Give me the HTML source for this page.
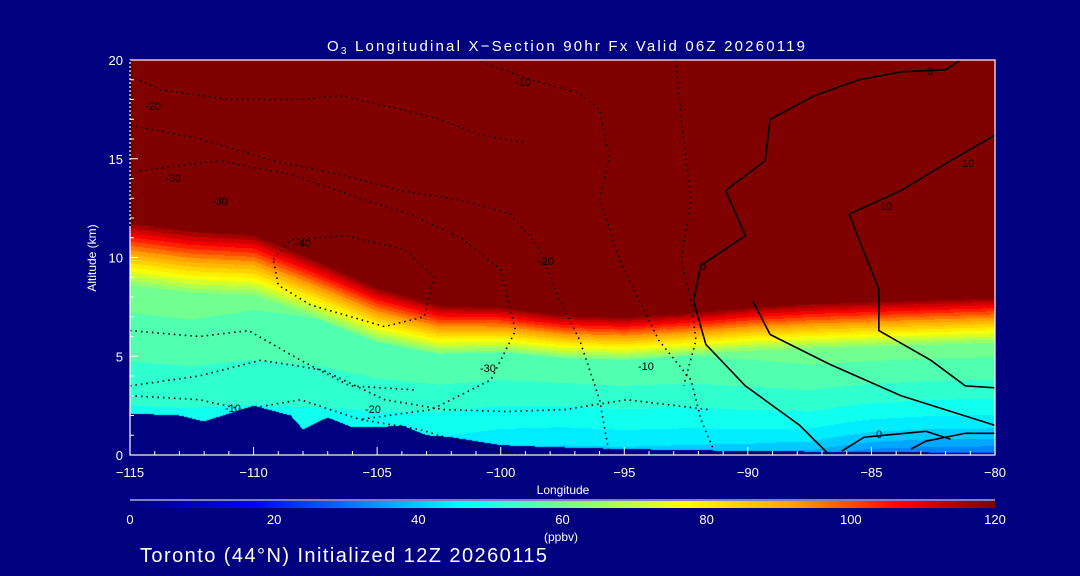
<!DOCTYPE html>
<html><head><meta charset="utf-8">
<style>
html,body{margin:0;padding:0;background:#000080;}
#wrap{position:relative;width:1080px;height:576px;background:#000080;overflow:hidden;font-family:"Liberation Sans",sans-serif;}
canvas{position:absolute;left:130px;top:60px;}
svg{position:absolute;left:0;top:0;}
</style></head>
<body>
<div id="wrap">
<canvas id="field" width="865" height="395"></canvas>
<canvas id="cbar" width="865" height="7" style="left:130px;top:501px"></canvas>
<svg id="svg" width="1080" height="576"></svg>
</div>
<script>
// ---- data ----
const lons      = [-115,-112.5,-110,-107.5,-105,-102.5,-100,-97.5,-95,-92.5,-90,-87.5,-85,-82.5,-80];
const tropTop   = [11.8,11.4,11.2,9.9,8.5,7.6,7.5,7.1,7.0,7.2,7.5,7.7,7.8,7.9,8.0];
const tropDepth = [3.3,3.3,3.2,3.0,2.8,2.5,2.3,2.2,2.2,2.2,2.3,2.4,2.4,2.4,2.4];
const midVal    = [60,60,59,58,58,58,58,58,58,58,59,60,60,60,60];
const surfVal   = [44,44,44,44,43,42,40,39,39,38,36,32,24,22,22];
const profExp   = [0.8,0.8,0.8,0.8,0.8,0.8,0.8,0.8,0.75,0.7,0.6,0.5,0.45,0.45,0.45];
const terrLons  = [-115,-113,-112,-110,-108.5,-108,-107,-106,-105,-104,-103,-102,-101,-100,-98,-95,-90,-85,-80];
const terrAlt   = [2.1,2.0,1.7,2.5,2.0,1.3,1.9,1.4,1.4,1.5,1.0,0.9,0.7,0.5,0.4,0.3,0.2,0.15,0.1];
const cbTicks   = [0,20,40,60,80,100,120];
const xTicks    = [-115,-110,-105,-100,-95,-90,-85,-80];
const yTicks    = [0,5,10,15,20];
// contours: [lon, alt] pairs
const solidContours = [
 [[-81.4,20],[-82,19.5],[-83.8,19.4],[-85.5,19],[-87.3,18.2],[-89.1,17],[-89.3,14.9],[-90.9,13.4],[-90.1,11.1],[-91.9,9.6],[-92.2,7.8],[-91.7,5.6],[-90.1,3.5],[-87.9,1.5],[-86.7,0]],
 [[-80,16.2],[-81.8,14.9],[-83.8,13.4],[-85.9,12.2],[-85.5,10.9],[-84.7,8.4],[-84.7,6.3],[-82.6,4.8],[-81.2,3.5],[-80,3.4]],
 [[-89.8,7.8],[-89.1,6.1],[-86.7,4.6],[-83.8,3.0],[-80,1.5]],
 [[-86.2,0.2],[-85.3,0.9],[-82.8,1.2],[-81.8,0.8]],
 [[-83.4,0.3],[-82.8,0.7],[-81.2,1.1],[-80,1.1]]
];
const dottedContours = [
 [[-115,19.2],[-113.8,18.5],[-111,18],[-108.1,18],[-106.5,18.2],[-104.1,17.5],[-102.5,17],[-100.8,16.2],[-99,15.8]],
 [[-100.8,19.9],[-98.8,19],[-96.8,18.3],[-96,17.5],[-95.6,15],[-96,13],[-95.2,9.9],[-94.4,7.8],[-93.6,5.8],[-92.3,3.8],[-91.9,1.8],[-91.3,0]],
 [[-92.9,20],[-92.7,17],[-92.3,12.9],[-92.7,9.9],[-92.3,7.8],[-92.1,5.8],[-92.6,3.5]],
 [[-115,16.7],[-112.2,16],[-108.9,14.8],[-106.5,14.2],[-104.1,13.4],[-101.6,12.9],[-99.6,12.2],[-98.4,10.4],[-97.6,7.8],[-96.8,5.8],[-96,2.8],[-95.6,0]],
 [[-114.6,14.4],[-111.4,14.9],[-108.5,14.2],[-105.7,13],[-103.7,12.2],[-101.6,11],[-100,9.4],[-99.4,6.3],[-100.4,3.8],[-102.8,2.3],[-105.7,1.8]],
 [[-109.2,9.9],[-108.5,10.9],[-106.3,11.1],[-103.9,10.4],[-102.7,9],[-103.1,7],[-104.7,6.5],[-107.7,7.6],[-109,8.6],[-109.2,9.9]],
 [[-115,3.5],[-112.2,4],[-109.7,4.8],[-107.2,4.3],[-104.7,2.8],[-102.3,2.3],[-99.8,2.2],[-97.4,2.3],[-94.9,2.8],[-91.6,2.3]],
 [[-115,3],[-112.2,2.8],[-110.4,2.3],[-108.1,2.8],[-105.7,1.8],[-103.3,1.3],[-101.2,0.5],[-99.2,0]],
 [[-115,6.3],[-112.2,6],[-110.2,6.3],[-108.1,4.8],[-106.1,3.5],[-103.5,3.3]]
];

// ---- axis functions ----
const X0=130,X1=995,Y0=455,Y1=60;
const xs=l=>X0+(l+115)/35*(X1-X0);
const ys=a=>Y0-a/20*(Y0-Y1);
function interp(xa,ya,x){if(x<=xa[0])return ya[0];for(let i=1;i<xa.length;i++){if(x<=xa[i]){const t=(x-xa[i-1])/(xa[i]-xa[i-1]);return ya[i-1]+t*(ya[i]-ya[i-1]);}}return ya[ya.length-1];}
const stops=[[0,[0,0,128]],[17,[0,0,255]],[46,[0,255,255]],[62,[128,255,128]],[77,[255,255,0]],[92,[255,160,0]],[107,[255,0,0]],[120,[128,0,0]]];
function cmap(v){v=Math.max(0,Math.min(120,v));for(let i=1;i<stops.length;i++){if(v<=stops[i][0]){const a=stops[i-1],b=stops[i],t=(v-a[0])/(b[0]-a[0]);return a[1].map((c,k)=>Math.round(c+t*(b[1][k]-c)));}}return stops[stops.length-1][1];}
function ozone(lon,z){
 const tp=interp(lons,tropTop,lon),d=interp(lons,tropDepth,lon);
 if(z>=tp)return 120;
 const base=tp-d;
 if(z>base)return 60+60*(z-base)/d;
 const m=interp(lons,midVal,lon),s=interp(lons,surfVal,lon),e=interp(lons,profExp,lon);
 return s+(m-s)*Math.pow(Math.max(0,z)/base,e);
}
// field
const fc=document.getElementById('field').getContext('2d');
const img=fc.createImageData(865,395);
for(let px=0;px<865;px++){
 const lon=-115+(px+0.5)/865*35, ter=interp(terrLons,terrAlt,lon);
 for(let py=0;py<395;py++){
  const z=(395-py-0.5)/395*20;
  let c;
  if(z<ter)c=[0,0,128];else{let v=ozone(lon,z);v=Math.round(v/4)*4;c=cmap(v);}
  const i=(py*865+px)*4;img.data[i]=c[0];img.data[i+1]=c[1];img.data[i+2]=c[2];img.data[i+3]=255;
 }
}
fc.putImageData(img,0,0);
// colorbar
const cc=document.getElementById('cbar').getContext('2d');
for(let px=0;px<865;px++){const c=cmap(px/864*120);cc.fillStyle=`rgb(${c})`;cc.fillRect(px,0,1,7);}
// svg
const NS='http://www.w3.org/2000/svg',svg=document.getElementById('svg');
function el(t,a,p){const e=document.createElementNS(NS,t);for(const k in a)e.setAttribute(k,a[k]);(p||svg).appendChild(e);return e;}
function txt(s,x,y,size,anchor,name){const e=el('text',{x:x,y:y,'font-size':size,fill:'#fff','text-anchor':anchor||'start','font-family':'Liberation Sans, sans-serif'});e.textContent=s;


return e;}
solidContours.forEach(c=>{const e=el('polyline',{points:c.map(p=>xs(p[0])+','+ys(p[1])).join(' '),fill:'none',stroke:'#000','stroke-width':1.6});

});
dottedContours.forEach(c=>{const e=el('polyline',{points:c.map(p=>xs(p[0])+','+ys(p[1])).join(' '),fill:'none',stroke:'#000','stroke-width':1.6,'stroke-dasharray':'1.5 4'});

});
// contour labels
const cl=[['-20',145,110],['-30',165,182],['-30',212,205],['-40',295,247],['-10',515,86],['-20',538,265],['-30',480,372],['-10',638,370],['-20',365,413],['-10',225,412],['0',927,75],['10',962,167],['10',880,210],['0',700,270],['0',876,438]];
cl.forEach(l=>{const e=txt(l[0],l[1],l[2],11,'start','contour-label');e.setAttribute('fill','#000');});
// frame
const fr=el('rect',{x:X0,y:Y1,width:X1-X0,height:Y0-Y1,fill:'none',stroke:'#fff','stroke-width':1.2});


const ld=el('line',{x1:X0,y1:Y1,x2:X0,y2:228,stroke:'#000','stroke-width':2,'stroke-dasharray':'2 2'});


for(let l=-115;l<=-80;l++){const maj=(l%5===0);const t=el('line',{x1:xs(l),y1:Y0,x2:xs(l),y2:Y0-(maj?8:4),stroke:'#fff'});

}
for(let a=0;a<=20;a++){const maj=(a%5===0);const t=el('line',{x1:X0,y1:ys(a),x2:X0+(maj?8:4),y2:ys(a),stroke:'#fff'});

}
xTicks.forEach(l=>txt(String(l).replace('-','\u2212'),xs(l),477,13,'middle','x-tick-label'));
yTicks.forEach(a=>txt(String(a),123,ys(a)+5,13,'end','y-tick-label'));
txt('Longitude',563,494,12,'middle','x-axis-title');
const yt=txt('Altitude (km)',0,0,12,'middle','y-axis-title');yt.setAttribute('transform','translate(96,258) rotate(-90)');
const tt=txt('',327,51,15,'start','chart-title');tt.setAttribute('textLength','478');
tt.innerHTML='O<tspan font-size="10" dy="3">3</tspan><tspan dy="-3"> Longitudinal X\u2212Section 90hr  Fx Valid 06Z 20260119</tspan>';
const cbl=el('line',{x1:X0,y1:500,x2:X1,y2:500,stroke:'#fff'});


cbTicks.forEach(v=>txt(String(v),X0+v/120*(X1-X0),524,13,'middle','colorbar-tick-label'));
txt('(ppbv)',561,541,12,'middle','colorbar-unit');
const bt=txt('Toronto (44\u00B0N) Initialized 12Z 20260115',140,562,20,'start','footer-text');bt.setAttribute('textLength','407');
</script>
</body></html>
